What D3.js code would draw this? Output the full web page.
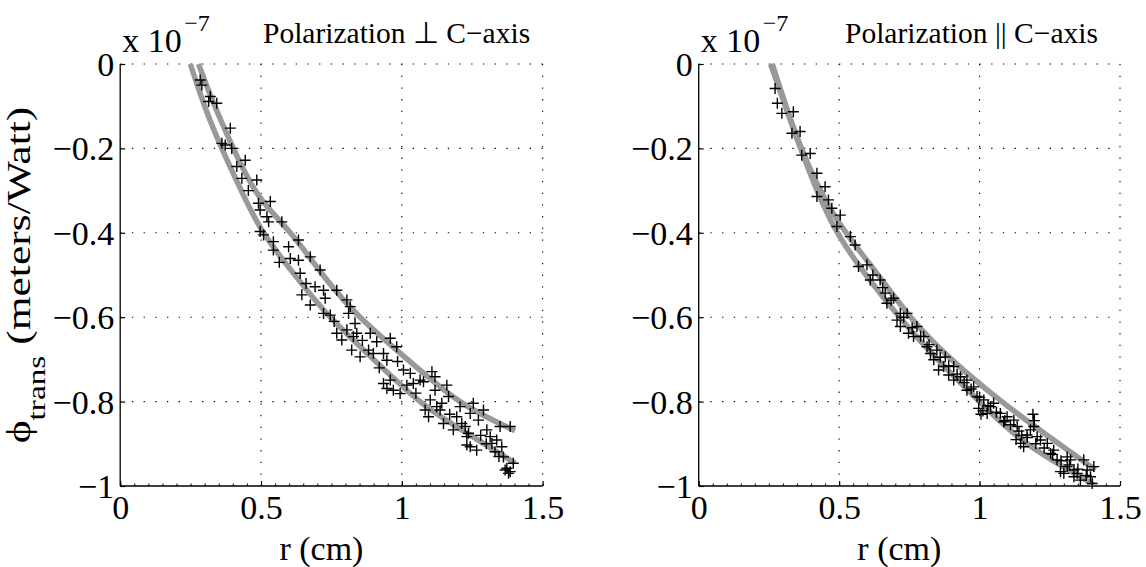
<!DOCTYPE html>
<html>
<head>
<meta charset="utf-8">
<style>
  body { margin: 0; background: #fff; }
  text { font-family: "Liberation Serif", "Times New Roman", Times, serif; fill: #000; }
</style>
<script src="https://d3js.org/d3.v7.min.js"></script>
</head>
<body>
<svg width="1146" height="567"></svg>
<script>

// x ticks and y ticks (y values in units of 1e-7)
var xTicks = [0, 0.5, 1, 1.5];
var yTicks = [0, -0.2, -0.4, -0.6, -0.8, -1];
var titles = ["Polarization \u22a5 C\u2212axis", "Polarization || C\u2212axis"];

// left panel: fitted curves [r, phi]
var perpUpper = [[0.278,0],[0.33,-0.09],[0.402,-0.2],[0.49,-0.31],[0.604,-0.4],[0.72,-0.5],[0.852,-0.6],[1.02,-0.7],[1.207,-0.8],[1.402,-0.869]];
var perpLower = [[0.249,0],[0.30,-0.10],[0.361,-0.2],[0.43,-0.30],[0.509,-0.4],[0.62,-0.5],[0.746,-0.6],[0.90,-0.7],[1.065,-0.8],[1.22,-0.87],[1.402,-0.946]];

// left panel: measured points
var perpPts = [[0.284,-0.038],[0.290,-0.050],[0.320,-0.077],[0.343,-0.093],[0.314,-0.089],[0.391,-0.152],[0.361,-0.188],[0.373,-0.192],
  [0.396,-0.200],[0.444,-0.228],[0.414,-0.243],[0.432,-0.271],[0.485,-0.275],[0.491,-0.330],[0.497,-0.346],[0.533,-0.326],
  [0.521,-0.362],[0.527,-0.374],[0.574,-0.374],[0.497,-0.397],[0.509,-0.405],[0.544,-0.421],[0.544,-0.441],[0.598,-0.433],
  [0.633,-0.417],[0.604,-0.461],[0.633,-0.465],[0.639,-0.496],[0.675,-0.457],[0.710,-0.488],[0.692,-0.528],[0.722,-0.536],
  [0.728,-0.555],[0.769,-0.536],[0.645,-0.547],[0.675,-0.571],[0.746,-0.595],[0.722,-0.591],[0.805,-0.559],[0.811,-0.591],
  [0.817,-0.575],[0.834,-0.615],[0.840,-0.638],[0.805,-0.630],[0.828,-0.646],[0.787,-0.654],[0.822,-0.678],[0.852,-0.694],
  [0.882,-0.678],[0.899,-0.686],[0.888,-0.638],[0.911,-0.658],[0.935,-0.686],[0.959,-0.650],[0.982,-0.670],[0.947,-0.702],
  [0.959,-0.749],[0.935,-0.757],[0.947,-0.769],[0.970,-0.773],[0.994,-0.781],[1.006,-0.725],[1.030,-0.733],[1.041,-0.757],
  [1.018,-0.761],[1.065,-0.749],[1.077,-0.753],[1.107,-0.729],[1.118,-0.741],[1.118,-0.773],[1.160,-0.761],[1.101,-0.796],
  [1.083,-0.820],[1.095,-0.836],[1.124,-0.812],[1.136,-0.820],[1.142,-0.804],[1.166,-0.788],[1.148,-0.852],[1.183,-0.867],
  [1.207,-0.812],[1.213,-0.852],[1.225,-0.859],[1.231,-0.883],[1.243,-0.828],[1.237,-0.875],[1.231,-0.903],[1.243,-0.907],
  [1.266,-0.915],[1.272,-0.844],[1.290,-0.820],[1.302,-0.867],[1.314,-0.883],[1.320,-0.899],[1.331,-0.919],[1.349,-0.859],
  [1.355,-0.907],[1.361,-0.931],[1.373,-0.958],[1.379,-0.970],[1.385,-0.859],[1.396,-0.946],[1.337,-0.891],[1.195,-0.836],
  [1.254,-0.804],[0.769,-0.638],[1.367,-0.962],[1.385,-0.966],[0.455,-0.300],[0.565,-0.470],[0.660,-0.520],[0.760,-0.610],
  [0.860,-0.655],[0.920,-0.720],[0.985,-0.705],[1.050,-0.780],[1.170,-0.830],[1.280,-0.880],[1.300,-0.900],[1.345,-0.930]];

// right panel: fitted curves
var parA = [[0.262,0],[0.36,-0.19],[0.48,-0.355],[0.61,-0.475],[0.755,-0.60],[0.90,-0.70],[1.06,-0.79],[1.23,-0.875],[1.413,-0.962]];
var parB = [[0.256,0],[0.36,-0.195],[0.47,-0.37],[0.59,-0.495],[0.715,-0.60],[0.85,-0.70],[1.00,-0.80],[1.17,-0.90],[1.407,-0.997]];

// right panel: measured points
var parPts = [[0.272,-0.058],[0.280,-0.093],[0.296,-0.117],[0.337,-0.113],[0.332,-0.164],[0.361,-0.160],[0.367,-0.216],[0.397,-0.212],
  [0.421,-0.259],[0.421,-0.314],[0.450,-0.291],[0.462,-0.322],[0.474,-0.342],[0.504,-0.358],[0.492,-0.385],[0.540,-0.409],
  [0.557,-0.429],[0.569,-0.480],[0.599,-0.476],[0.611,-0.512],[0.646,-0.512],[0.664,-0.543],[0.694,-0.555],[0.706,-0.607],
  [0.718,-0.622],[0.742,-0.591],[0.747,-0.638],[0.777,-0.622],[0.801,-0.646],[0.813,-0.670],[0.848,-0.678],[0.854,-0.725],
  [0.878,-0.694],[0.890,-0.737],[0.908,-0.717],[0.932,-0.741],[0.955,-0.749],[0.979,-0.765],[0.997,-0.816],[1.015,-0.796],
  [1.027,-0.828],[1.050,-0.804],[1.074,-0.828],[1.098,-0.836],[1.122,-0.844],[1.146,-0.899],[1.157,-0.907],[1.181,-0.867],
  [1.193,-0.859],[1.217,-0.891],[1.241,-0.899],[1.264,-0.915],[1.288,-0.966],[1.300,-0.970],[1.312,-0.931],[1.324,-0.938],
  [1.336,-0.978],[1.348,-0.970],[1.359,-0.986],[1.371,-0.938],[1.383,-0.962],[1.395,-0.978],[1.407,-0.954],[1.401,-0.994],
  [0.670,-0.567],[0.718,-0.591],[0.837,-0.701],[0.872,-0.717],[0.955,-0.773],[1.039,-0.812],[1.134,-0.859],[1.205,-0.883],
  [1.253,-0.923],[1.312,-0.954],[0.765,-0.646],[0.825,-0.686],[0.908,-0.749],[0.991,-0.788],[1.086,-0.848],[1.169,-0.879],
  [1.276,-0.938],[1.336,-0.962],
  [0.620,-0.500],[0.655,-0.530],[0.685,-0.560],[0.730,-0.600],[0.760,-0.625],[0.790,-0.645],[0.820,-0.665],[0.860,-0.695],
  [0.890,-0.715],[0.920,-0.735],[0.945,-0.755],[0.970,-0.770],[1.000,-0.790],[1.030,-0.810],[1.060,-0.825],[1.090,-0.845],
  [1.110,-0.855],[1.140,-0.870],[1.170,-0.885],[1.200,-0.900],[1.230,-0.910],[1.260,-0.925],[1.290,-0.940],[1.320,-0.950],
  [1.350,-0.960],[1.380,-0.975],[1.005,-0.830],[1.012,-0.822],[1.130,-0.890],[1.150,-0.880],[1.190,-0.830],[1.195,-0.845]];

var panels = [
  {left: 120.2, right: 542.6, curves: [perpUpper, perpLower], pts: perpPts, title: titles[0], titleX: 263, ylabel: true},
  {left: 698.7, right: 1120, curves: [parA, parB], pts: parPts, title: titles[1], titleX: 845, ylabel: false}
];

var svg = d3.select("svg");
var yTop = 64, yBottom = 486;
var fs = 34;

panels.forEach(function(p) {
  var x = d3.scaleLinear().domain([0, 1.5]).range([p.left, p.right]);
  var y = d3.scaleLinear().domain([-1, 0]).range([yBottom, yTop]);
  var g = svg.append("g");

  // dotted grid
  g.selectAll(".gx").data(xTicks.slice(1)).enter().append("line")
    .attr("x1", x).attr("x2", x).attr("y1", yTop).attr("y2", yBottom)
    .attr("stroke", "#000").attr("stroke-width", 1.1).attr("stroke-dasharray", "1.3,10.4");
  g.selectAll(".gy").data(yTicks.slice(0, -1)).enter().append("line")
    .attr("y1", y).attr("y2", y).attr("x1", p.left).attr("x2", p.right)
    .attr("stroke", "#000").attr("stroke-width", 1.1).attr("stroke-dasharray", "1.3,10.4");

  // axes
  var xAxis = d3.axisBottom(x).tickValues(xTicks).tickSize(-5).tickPadding(9).tickFormat(d3.format("~g"));
  var ax = g.append("g").attr("transform", "translate(0," + yBottom + ")").call(xAxis);
  ax.select(".domain").attr("d", "M" + p.left + ",0H" + p.right).attr("stroke-width", 1.3);
  ax.selectAll(".tick line").attr("stroke-width", 1.2);
  ax.selectAll("text").style("font-family", "Liberation Serif").style("font-size", fs + "px").attr("dy", "0.72em");
  g.append("g").attr("transform", "translate(0," + yBottom + ")")
    .call(d3.axisBottom(x).tickValues(d3.range(0, 1.5001, 0.05)).tickSize(-2.5).tickFormat(""))
    .call(function(s) { s.select(".domain").remove(); });

  var yAxis = d3.axisLeft(y).tickValues(yTicks).tickSize(-5).tickPadding(6)
    .tickFormat(function(d) { return d === 0 ? "0" : d === -1 ? "\u22121" : "\u2212" + d3.format(".1f")(-d); });
  var ay = g.append("g").attr("transform", "translate(" + p.left + ",0)").call(yAxis);
  ay.select(".domain").attr("d", "M0," + yTop + "V" + yBottom).attr("stroke-width", 1.3);
  ay.selectAll(".tick line").attr("stroke-width", 1.2);
  ay.selectAll("text").style("font-family", "Liberation Serif").style("font-size", fs + "px").attr("dy", "0.34em");

  // fitted curves
  var line = d3.line().x(function(d) { return x(d[0]); }).y(function(d) { return y(d[1]); }).curve(d3.curveNatural);
  p.curves.forEach(function(c) {
    g.append("path").datum(c).attr("d", line)
      .attr("fill", "none").attr("stroke", "#999").attr("stroke-width", 5.5);
  });

  // measured points as plus signs
  g.append("path")
    .attr("d", p.pts.map(function(d) {
      var px = x(d[0]), py = y(d[1]);
      return "M" + (px - 5.5) + "," + py + "h11M" + px + "," + (py - 5.5) + "v11";
    }).join(""))
    .attr("stroke", "#000").attr("stroke-width", 1.4).attr("fill", "none");

  // exponent label
  g.append("text").attr("x", p.left + 2).attr("y", 52).style("font-size", fs + "px").text("x 10");
  g.append("text").attr("x", p.left + 64).attr("y", 31).style("font-size", "24px").text("\u22127");

  // title
  g.append("text").attr("x", p.titleX).attr("y", 43).style("font-size", "29.5px").text(p.title);

  // x label
  g.append("text").attr("x", (p.left + p.right) / 2 - 10).attr("y", 560).attr("text-anchor", "middle")
    .style("font-size", fs + "px").text("r (cm)");

  if (p.ylabel) {
    var yl = g.append("text").attr("transform", "translate(30,275) rotate(-90) scale(1.28,1)")
      .attr("text-anchor", "middle").style("font-size", fs + "px");
    yl.append("tspan").text("\u03d5");
    yl.append("tspan").attr("dy", 15).style("font-size", "26px").text("trans");
    yl.append("tspan").attr("dy", -15).text(" (meters/Watt)");
  }
});

</script>
</body>
</html>
